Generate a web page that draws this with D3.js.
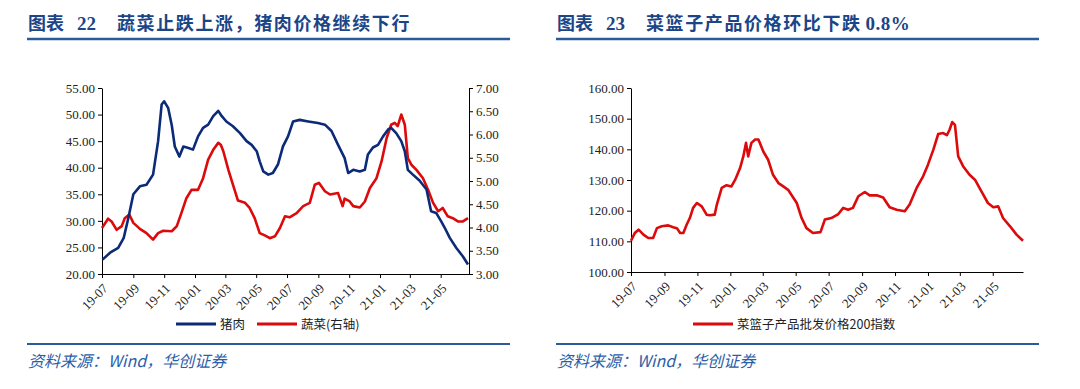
<!DOCTYPE html>
<html lang="zh">
<head>
<meta charset="UTF-8">
<title>蔬菜与猪肉价格 / 菜篮子产品价格</title>
<script src="https://d3js.org/d3.v7.min.js"></script>
<style>
  body { margin: 0; background: #fff; }
  svg { display: block; }
  .title { font-family: "Noto Sans CJK SC", sans-serif; font-weight: bold; font-size: 18px; fill: #1b4587; }
  .title-num { font-family: "Liberation Serif", serif; font-weight: bold; font-size: 19px; fill: #1b4587; }
  .axis text { font-family: "Liberation Serif", serif; font-size: 13px; fill: #222; }
  .axis path, .axis line { stroke: #000; }
  .legend text { font-family: "Noto Sans CJK SC", sans-serif; font-size: 12.5px; fill: #222; }
  .source { font-family: "Noto Sans CJK SC", sans-serif; font-style: italic; font-size: 16px; fill: #2b5ea8; }
</style>
</head>
<body>
<div id="chart"></div>
<script>
// 猪肉 (左轴)
const pork = [
  ["2019-07-02",22.7],["2019-07-17",24.0],["2019-08-02",24.9],["2019-08-13",26.8],["2019-08-22",30.5],
  ["2019-09-01",35.0],["2019-09-14",36.5],["2019-09-27",36.8],["2019-10-10",38.7],["2019-10-20",45.0],
  ["2019-10-27",51.9],["2019-11-01",52.5],["2019-11-09",51.2],["2019-11-16",48.0],["2019-11-22",44.0],
  ["2019-12-01",42.1],["2019-12-09",44.0],["2019-12-19",43.7],["2019-12-28",43.4],["2020-01-07",45.9],
  ["2020-01-17",47.5],["2020-01-27",48.1],["2020-02-06",49.7],["2020-02-16",50.7],["2020-02-23",49.7],
  ["2020-03-03",48.7],["2020-03-16",47.8],["2020-03-30",46.5],["2020-04-12",45.0],["2020-04-22",44.3],
  ["2020-05-02",43.1],["2020-05-08",41.2],["2020-05-15",39.3],["2020-05-25",38.7],["2020-06-03",39.0],
  ["2020-06-13",40.6],["2020-06-23",44.0],["2020-07-03",45.9],["2020-07-13",48.7],["2020-07-26",49.0],
  ["2020-08-12",48.7],["2020-08-31",48.4],["2020-09-14",48.1],["2020-09-27",46.9],["2020-10-10",44.3],
  ["2020-10-23",41.8],["2020-10-30",39.0],["2020-11-09",39.6],["2020-11-22",39.3],["2020-12-02",39.6],
  ["2020-12-08",42.5],["2020-12-18",43.8],["2020-12-28",44.3],["2021-01-07",45.9],["2021-01-17",47.2],
  ["2021-01-23",47.5],["2021-02-02",46.5],["2021-02-12",45.0],["2021-02-19",43.1],["2021-02-25",39.6],
  ["2021-03-07",38.7],["2021-03-20",37.6],["2021-04-03",35.9],["2021-04-12",31.8],["2021-04-22",31.5],
  ["2021-05-02",29.9],["2021-05-09",28.7],["2021-05-19",26.8],["2021-06-01",24.9],["2021-06-14",23.3],
  ["2021-06-24",21.8]
];

// 蔬菜 (右轴)
const vegetable = [
  ["2019-07-01",3.99],["2019-07-13",4.19],["2019-07-20",4.13],["2019-07-30",3.95],["2019-08-09",4.03],
  ["2019-08-15",4.20],["2019-08-24",4.28],["2019-09-01",4.10],["2019-09-14",3.97],["2019-09-27",3.88],
  ["2019-10-10",3.74],["2019-10-20",3.88],["2019-10-30",3.93],["2019-11-16",3.92],["2019-11-26",4.03],
  ["2019-12-05",4.31],["2019-12-15",4.63],["2019-12-25",4.81],["2020-01-07",4.81],["2020-01-17",5.06],
  ["2020-01-27",5.46],["2020-02-06",5.67],["2020-02-16",5.82],["2020-02-21",5.78],["2020-02-26",5.64],
  ["2020-03-07",5.24],["2020-03-16",4.92],["2020-03-26",4.58],["2020-04-09",4.53],["2020-04-18",4.42],
  ["2020-04-28",4.20],["2020-05-08",3.88],["2020-05-18",3.83],["2020-05-28",3.77],["2020-06-07",3.81],
  ["2020-06-17",3.99],["2020-06-27",4.24],["2020-07-06",4.22],["2020-07-20",4.31],["2020-08-02",4.46],
  ["2020-08-15",4.53],["2020-08-25",4.92],["2020-09-02",4.96],["2020-09-14",4.78],["2020-09-24",4.71],
  ["2020-10-10",4.74],["2020-10-19",4.46],["2020-10-23",4.62],["2020-11-02",4.56],["2020-11-09",4.46],
  ["2020-11-22",4.43],["2020-12-02",4.56],["2020-12-12",4.85],["2020-12-25",5.06],["2021-01-04",5.42],
  ["2021-01-14",5.92],["2021-01-23",6.21],["2021-01-30",6.25],["2021-02-05",6.18],["2021-02-12",6.43],
  ["2021-02-19",6.21],["2021-02-25",5.49],["2021-03-04",5.35],["2021-03-14",5.24],["2021-03-27",5.06],
  ["2021-04-06",4.81],["2021-04-16",4.53],["2021-04-26",4.35],["2021-05-05",4.42],["2021-05-15",4.24],
  ["2021-05-25",4.20],["2021-06-04",4.13],["2021-06-14",4.13],["2021-06-24",4.20]
];

// 菜篮子产品批发价格200指数
const basket = [
  ["2019-07-01",110.2],["2019-07-08",112.7],["2019-07-15",113.8],["2019-07-24",112.2],["2019-08-02",111.1],
  ["2019-08-11",111.1],["2019-08-18",114.3],["2019-08-27",114.9],["2019-09-08",115.2],["2019-09-17",114.6],
  ["2019-09-24",114.3],["2019-09-30",112.7],["2019-10-06",112.7],["2019-10-12",115.4],["2019-10-18",117.6],
  ["2019-10-24",120.9],["2019-10-31",122.5],["2019-11-09",121.4],["2019-11-18",118.7],["2019-11-24",118.5],
  ["2019-12-03",118.7],["2019-12-07",122.0],["2019-12-16",127.4],["2019-12-25",128.3],["2020-01-03",127.9],
  ["2020-01-10",130.1],["2020-01-19",133.9],["2020-01-25",137.7],["2020-01-30",142.1],["2020-02-03",137.7],
  ["2020-02-09",142.1],["2020-02-16",143.2],["2020-02-22",143.2],["2020-03-02",139.3],["2020-03-11",136.6],
  ["2020-03-20",131.7],["2020-03-30",129.0],["2020-04-08",127.9],["2020-04-17",126.8],["2020-04-23",125.2],
  ["2020-05-03",122.5],["2020-05-12",117.6],["2020-05-21",114.3],["2020-06-02",112.7],["2020-06-16",113.0],
  ["2020-06-24",117.1],["2020-07-06",117.6],["2020-07-19",118.9],["2020-07-28",120.9],["2020-08-06",120.3],
  ["2020-08-15",120.9],["2020-08-25",124.7],["2020-09-06",126.1],["2020-09-15",125.0],["2020-09-28",125.0],
  ["2020-10-10",124.3],["2020-10-22",121.1],["2020-11-04",120.3],["2020-11-19",119.8],["2020-11-28",122.0],
  ["2020-12-11",127.4],["2020-12-23",131.2],["2021-01-01",135.0],["2021-01-11",139.9],["2021-01-20",145.0],
  ["2021-01-29",145.3],["2021-02-05",144.6],["2021-02-10",146.4],["2021-02-15",148.9],["2021-02-20",148.0],
  ["2021-02-26",137.7],["2021-03-07",134.5],["2021-03-19",131.7],["2021-03-29",130.1],["2021-04-10",126.3],
  ["2021-04-22",122.5],["2021-05-02",121.1],["2021-05-11",121.4],["2021-05-20",117.6],["2021-06-02",114.9],
  ["2021-06-14",112.2],["2021-06-26",110.2]
];

const dateRange = ["2019-07-01", "2021-06-26"];
const porkTicks = [20, 25, 30, 35, 40, 45, 50, 55];
const vegTicks = [3, 3.5, 4, 4.5, 5, 5.5, 6, 6.5, 7];
const basketTicks = [100, 110, 120, 130, 140, 150, 160];

const BLUE = "#0b2a78";
const RED = "#dc0a0a";

const parse = d3.timeParse("%Y-%m-%d");
const fmt2 = d3.format(".2f");

const svg = d3.select("#chart").append("svg")
    .attr("width", 1080)
    .attr("height", 389);

// header + footer for each panel
function frame(x0, x1, num, text, tail, textX) {
    svg.append("text").attr("class", "title").attr("x", x0 + 1).attr("y", 30).text("图表");
    svg.append("text").attr("class", "title-num").attr("x", x0 + 50).attr("y", 30).text(num);
    const t = svg.append("text").attr("class", "title").attr("x", textX).attr("y", 30)
        .attr("letter-spacing", "1.6px");
    t.append("tspan").text(text);
    if (tail) {
        t.append("tspan").attr("dx", 4)
            .style("font-family", "'Liberation Serif', serif").style("font-size", "19px")
            .attr("letter-spacing", "0.5px")
            .text(tail);
    }
    svg.append("line").attr("x1", x0).attr("x2", x1).attr("y1", 39).attr("y2", 39)
        .attr("stroke", "#2a5b9c").attr("stroke-width", 2.5);
    svg.append("line").attr("x1", x0).attr("x2", x1).attr("y1", 344).attr("y2", 344)
        .attr("stroke", "#2a5b9c").attr("stroke-width", 2);
    svg.append("text").attr("class", "source").attr("x", x0 + 1).attr("y", 367)
        .text("资料来源：Wind，华创证券");
}

frame(27, 510, "22", "蔬菜止跌上涨，猪肉价格继续下行", null, 117);
frame(556, 1039, "23", "菜篮子产品价格环比下跌", "0.8%", 646);

function xAxis(g, x, y0) {
    g.attr("class", "axis").attr("transform", `translate(0,${y0})`)
        .call(d3.axisBottom(x)
            .ticks(d3.timeMonth.every(2))
            .tickFormat(d3.timeFormat("%y-%m"))
            .tickSize(4).tickSizeOuter(0));
    g.selectAll(".tick text")
        .attr("font-size", 12)
        .attr("text-anchor", "end")
        .attr("x", 0).attr("y", 0).attr("dy", "0.35em")
        .attr("transform", "translate(3,12) rotate(-45)");
}

function legendItem(g, x, y, color, label) {
    g.append("line").attr("x1", x).attr("x2", x + 40).attr("y1", y).attr("y2", y)
        .attr("stroke", color).attr("stroke-width", 3);
    g.append("text").attr("x", x + 44).attr("y", y + 4.5).text(label);
}

// ---- chart 22 ----
{
    const x = d3.scaleTime().domain(dateRange.map(parse)).range([102, 469]);
    const yL = d3.scaleLinear().domain([20, 55]).range([274, 88]);
    const yR = d3.scaleLinear().domain([3, 7]).range([274, 88]);

    svg.append("g").call(g => xAxis(g, x, 274));
    svg.append("g").attr("class", "axis").attr("transform", "translate(102,0)")
        .call(d3.axisLeft(yL).tickValues(porkTicks).tickFormat(fmt2).tickSize(4).tickSizeOuter(0));
    svg.append("g").attr("class", "axis").attr("transform", "translate(469,0)")
        .call(d3.axisRight(yR).tickValues(vegTicks).tickFormat(fmt2).tickSize(4).tickSizeOuter(0));

    const lineL = d3.line().x(d => x(parse(d[0]))).y(d => yL(d[1]));
    const lineR = d3.line().x(d => x(parse(d[0]))).y(d => yR(d[1]));

    svg.append("path").datum(vegetable).attr("d", lineR)
        .attr("fill", "none").attr("stroke", RED).attr("stroke-width", 2.6).attr("stroke-linejoin", "round");
    svg.append("path").datum(pork).attr("d", lineL)
        .attr("fill", "none").attr("stroke", BLUE).attr("stroke-width", 2.6).attr("stroke-linejoin", "round");

    const lg = svg.append("g").attr("class", "legend");
    legendItem(lg, 176, 324, BLUE, "猪肉");
    legendItem(lg, 257, 324, RED, "蔬菜(右轴)");
}

// ---- chart 23 ----
{
    const x = d3.scaleTime().domain(dateRange.map(parse)).range([631, 1023]);
    const y = d3.scaleLinear().domain([100, 160]).range([272, 88]);

    svg.append("g").call(g => xAxis(g, x, 272));
    svg.append("g").attr("class", "axis").attr("transform", "translate(631,0)")
        .call(d3.axisLeft(y).tickValues(basketTicks).tickFormat(fmt2).tickSize(4).tickSizeOuter(0));

    const line = d3.line().x(d => x(parse(d[0]))).y(d => y(d[1]));
    svg.append("path").datum(basket).attr("d", line)
        .attr("fill", "none").attr("stroke", RED).attr("stroke-width", 2.6).attr("stroke-linejoin", "round");

    const lg = svg.append("g").attr("class", "legend");
    legendItem(lg, 693, 324, RED, "菜篮子产品批发价格200指数");
}
</script>
</body>
</html>
